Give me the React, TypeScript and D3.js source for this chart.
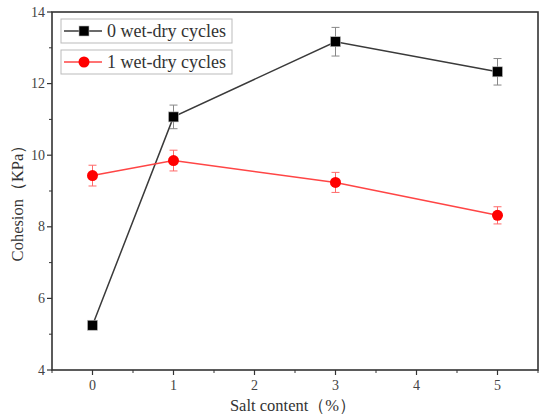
import * as React from "react";
import * as d3 from "d3";

const salt = [0, 1, 3, 5];
const cycles0 = [5.25, 11.07, 13.17, 12.33];
const cycles0Err = [0.1, 0.33, 0.4, 0.37];
const cycles1 = [9.43, 9.85, 9.24, 8.32];
const cycles1Err = [0.29, 0.29, 0.28, 0.24];
const xTicks = [0, 1, 2, 3, 4, 5];
const yTicks = [4, 6, 8, 10, 12, 14];
const legendLabels = ["0 wet-dry cycles", "1 wet-dry cycles"];

const W = 550;
const H = 419;
const M = { left: 52, right: 12, top: 12, bottom: 49 };
const FONT = "'Liberation Serif', 'Times New Roman', serif";

export default function App() {
  const x = d3.scaleLinear().domain([-0.5, 5.5]).range([M.left, W - M.right]);
  const y = d3.scaleLinear().domain([4, 14]).range([H - M.bottom, M.top]);
  const line = d3
    .line<number>()
    .x((d, i) => x(salt[i]))
    .y((d) => y(d));

  const series = [
    { vals: cycles0, err: cycles0Err, line: "#3a3a3a", fill: "#000", shape: "square" },
    { vals: cycles1, err: cycles1Err, line: "#ff4545", fill: "#ff0000", shape: "circle" },
  ];

  const marker = (shape: string, cx: number, cy: number, fill: string, key: string) =>
    shape === "square" ? (
      <rect key={key} x={cx - 5} y={cy - 5} width={10} height={10} fill={fill} stroke="#bbb" strokeWidth={0.6} />
    ) : (
      <circle key={key} cx={cx} cy={cy} r={5.5} fill={fill} />
    );

  const minorX = d3.range(-0.5, 5.51, 0.5).filter((v) => !Number.isInteger(v));
  const minorY = [5, 7, 9, 11, 13];

  return (
    <svg width={W} height={H} style={{ position: "absolute", left: 0, top: 0, background: "#fff" }} fontFamily={FONT}>
      {/* error bars */}
      {series.map((s, si) =>
        s.vals.map((v, i) => {
          const cx = x(salt[i]);
          const y1 = y(v + s.err[i]);
          const y2 = y(v - s.err[i]);
          const c = si === 0 ? "#888" : "#ff6a6a";
          return (
            <g key={`e${si}-${i}`} stroke={c} strokeWidth={1}>
              <line x1={cx} x2={cx} y1={y1} y2={y2} />
              <line x1={cx - 4} x2={cx + 4} y1={y1} y2={y1} />
              <line x1={cx - 4} x2={cx + 4} y1={y2} y2={y2} />
            </g>
          );
        })
      )}
      {/* lines */}
      {series.map((s, si) => (
        <path key={`l${si}`} d={line(s.vals) || ""} fill="none" stroke={s.line} strokeWidth={1.5} />
      ))}
      {series.map((s, si) => s.vals.map((v, i) => marker(s.shape, x(salt[i]), y(v), s.fill, `m${si}-${i}`)))}

      {/* frame */}
      <rect
        x={M.left}
        y={M.top}
        width={W - M.left - M.right}
        height={H - M.top - M.bottom}
        fill="none"
        stroke="#333"
        strokeWidth={1.6}
      />
      {/* x ticks */}
      {xTicks.map((t) => (
        <g key={`xt${t}`}>
          <line x1={x(t)} x2={x(t)} y1={y(4)} y2={y(4) + 5} stroke="#333" strokeWidth={1.2} />
          <text x={x(t)} y={y(4) + 20} textAnchor="middle" fontSize={14} fill="#444">
            {t}
          </text>
        </g>
      ))}
      {minorX.map((t) => (
        <line key={`xm${t}`} x1={x(t)} x2={x(t)} y1={y(4)} y2={y(4) + 3} stroke="#333" strokeWidth={1} />
      ))}
      {/* y ticks */}
      {yTicks.map((t) => (
        <g key={`yt${t}`}>
          <line x1={M.left - 5} x2={M.left} y1={y(t)} y2={y(t)} stroke="#333" strokeWidth={1.2} />
          <text x={M.left - 7} y={y(t) + 4.5} textAnchor="end" fontSize={14} fill="#444">
            {t}
          </text>
        </g>
      ))}
      {minorY.map((t) => (
        <line key={`ym${t}`} x1={M.left - 3} x2={M.left} y1={y(t)} y2={y(t)} stroke="#333" strokeWidth={1} />
      ))}

      {/* axis titles */}
      <text x={293} y={411} textAnchor="middle" fontSize={16.5} fill="#333">
        Salt content（%）
      </text>
      <text transform={`translate(23, ${(M.top + H - M.bottom) / 2 + 8}) rotate(-90)`} textAnchor="middle" fontSize={16.5} fill="#333">
        Cohesion（KPa）
      </text>

      {/* legend */}
      {legendLabels.map((lab, i) => {
        const top = 19 + i * 31;
        const s = series[i];
        return (
          <g key={`lg${i}`}>
            <rect x={61} y={top} width={171} height={24} fill="#fff" stroke="#bbb" strokeWidth={1} />
            <line x1={64} x2={102} y1={top + 12} y2={top + 12} stroke={s.line} strokeWidth={1.5} />
            {marker(s.shape, 84, top + 12, s.fill, `lm${i}`)}
            <text x={107} y={top + 18} fontSize={18} fill="#333">
              {lab}
            </text>
          </g>
        );
      })}
    </svg>
  );
}
